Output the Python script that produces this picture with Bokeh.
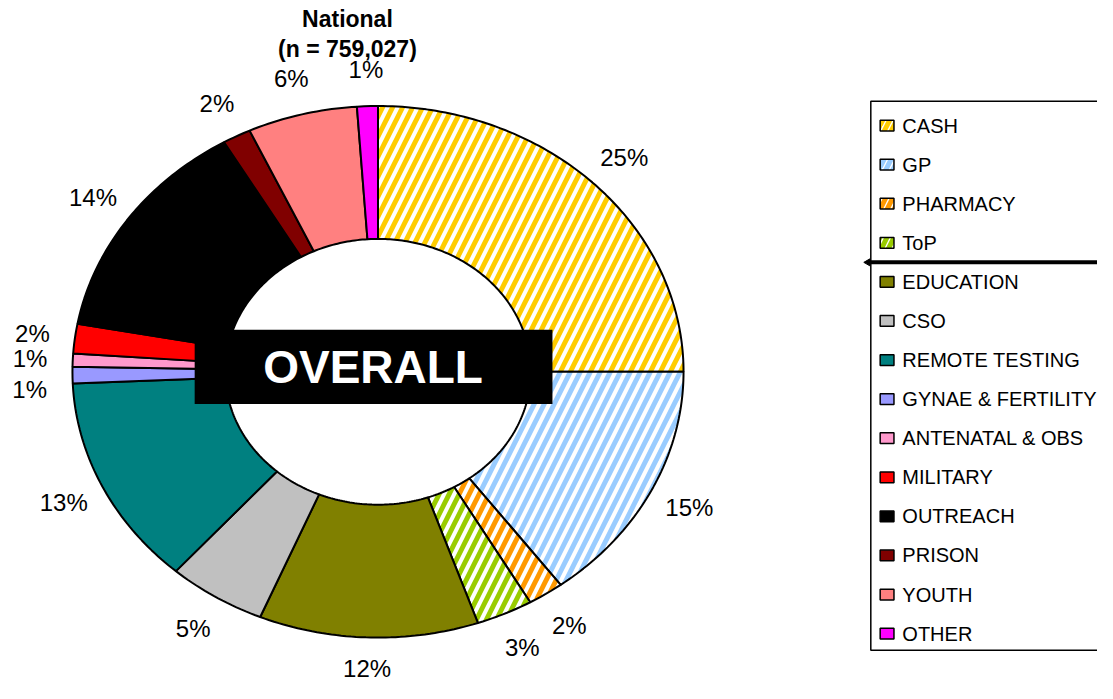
import numpy as np
from bokeh.plotting import figure
from bokeh.models import Range1d, ColumnDataSource
from bokeh.core.properties import value
from bokeh.embed import file_html
from bokeh.resources import INLINE

# ---------------- data ----------------
categories = ["CASH", "GP", "PHARMACY", "ToP", "EDUCATION", "CSO", "REMOTE TESTING",
              "GYNAE & FERTILITY", "ANTENATAL & OBS", "MILITARY", "OUTREACH",
              "PRISON", "YOUTH", "OTHER"]
shares = [25.0, 14.8, 1.9, 3.0, 11.6, 5.2, 12.8, 1.0, 0.8, 1.8, 13.7, 1.5, 5.8, 1.1]
pct_labels = ["25%", "15%", "2%", "3%", "12%", "5%", "13%", "1%", "1%", "2%",
              "14%", "2%", "6%", "1%"]
title_lines = ["National", "(n = 759,027)"]
center_label = "OVERALL"

# ---------------- style ----------------
colors = ["#FFCC00", "#99CCFF", "#FF9900", "#99CC00", "#808000", "#C0C0C0", "#008080",
          "#9999FF", "#FF99CC", "#FF0000", "#000000", "#800000", "#FF8080", "#FF00FF"]
hatched = [True, True, True, True] + [False] * 10
FONT = "Liberation Sans"

W, H = 1097, 683
REF_W, REF_H = 1113, 699
def sy(v):  # reference screen y (top-down) -> data y (bottom-up)
    return REF_H - v

cx, cy = 383, sy(380)
rx, ry = 310, 272
hole = 0.5
k_lab = 1.14

p = figure(width=W, height=H, x_range=Range1d(0, REF_W), y_range=Range1d(0, REF_H),
           output_backend="svg", toolbar_location=None, min_border=0,
           x_axis_type=None, y_axis_type=None)
p.grid.visible = False
p.outline_line_color = None
p.background_fill_color = "white"

# ---------------- doughnut ----------------
fr = np.array(shares, dtype=float)
fr = fr / fr.sum()
ends = np.cumsum(fr)
starts = ends - fr
xs, ys = [], []
for a0, a1 in zip(starts, ends):
    t = np.linspace(a0, a1, max(4, int((a1 - a0) * 400))) * 2 * np.pi
    ox = cx + rx * np.sin(t)
    oy = cy + ry * np.cos(t)
    ix = cx + rx * hole * np.sin(t[::-1])
    iy = cy + ry * hole * np.cos(t[::-1])
    xs.append(list(np.concatenate([ox, ix])))
    ys.append(list(np.concatenate([oy, iy])))

src = ColumnDataSource(dict(
    xs=xs, ys=ys,
    fill=["white" if h else c for c, h in zip(colors, hatched)],
    hcol=colors,
    hpat=["/" if h else " " for h in hatched],
))
p.patches("xs", "ys", source=src, fill_color="fill", hatch_pattern="hpat",
          hatch_color="hcol", hatch_scale=20, hatch_weight=5,
          line_color="black", line_width=2)

# ---------------- percentage labels ----------------
mids = (starts + ends) / 2 * 2 * np.pi
lx = list(cx + rx * k_lab * np.sin(mids))
ly = list(cy + ry * k_lab * np.cos(mids))
n = len(lx)
for i in range(n - 2, -1, -1):
    j = i + 1
    if abs(lx[i] - lx[j]) < 50 and abs(ly[i] - ly[j]) < 22:
        if np.sin(mids[i]) < 0:
            ly[i] = ly[j] - 32
        else:
            ly[i] = ly[j] + 32
ly = [max(v, 15) for v in ly]
p.text(x=lx, y=ly, text=pct_labels, text_font=value(FONT), text_font_size="24px",
       text_align="center", text_baseline="middle", text_color="black")

# ---------------- title ----------------
p.text(x=[cx - 31, cx - 31], y=[sy(19), sy(50)], text=title_lines,
       text_font=value(FONT), text_font_size="23px", text_font_style="bold",
       text_align="center", text_baseline="middle", text_color="black")

# ---------------- center label ----------------
p.rect(x=[cx - 4.5], y=[cy + 5], width=363, height=76, fill_color="black",
       line_color=None)
p.text(x=[cx - 5], y=[cy + 5], text=[center_label], text_font=value(FONT),
       text_font_size="46px", text_font_style="bold", text_align="center",
       text_baseline="middle", text_color="white")

# ---------------- legend ----------------
leg_left, leg_top, leg_bottom = 883, sy(103), sy(665)
p.quad(left=[leg_left], right=[REF_W + 40], top=[leg_top], bottom=[leg_bottom],
       fill_color="white", line_color="black", line_width=1.5)
row_y = [sy(128 + 40 * i) for i in range(len(categories))]
lsrc = ColumnDataSource(dict(
    x=[899.5] * len(categories), y=row_y,
    fill=["white" if h else c for c, h in zip(colors, hatched)],
    hcol=colors,
    hpat=["/" if h else " " for h in hatched],
))
p.rect(x="x", y="y", width=14, height=11, source=lsrc, fill_color="fill",
       hatch_pattern="hpat", hatch_color="hcol", hatch_scale=14, hatch_weight=5,
       line_color="black", line_width=1.5)
p.text(x=[915] * len(categories), y=row_y, text=categories, text_font=value(FONT),
       text_font_size="20px", text_align="left", text_baseline="middle",
       text_color="black")
sep_y = (row_y[3] + row_y[4]) / 2
p.line(x=[880, REF_W + 40], y=[sep_y, sep_y], line_color="black", line_width=4)
p.scatter(x=[880], y=[sep_y], marker="triangle", angle=np.pi / 2, size=7,
          fill_color="black", line_color="black")

open("out.html", "w").write(file_html(p, INLINE))
